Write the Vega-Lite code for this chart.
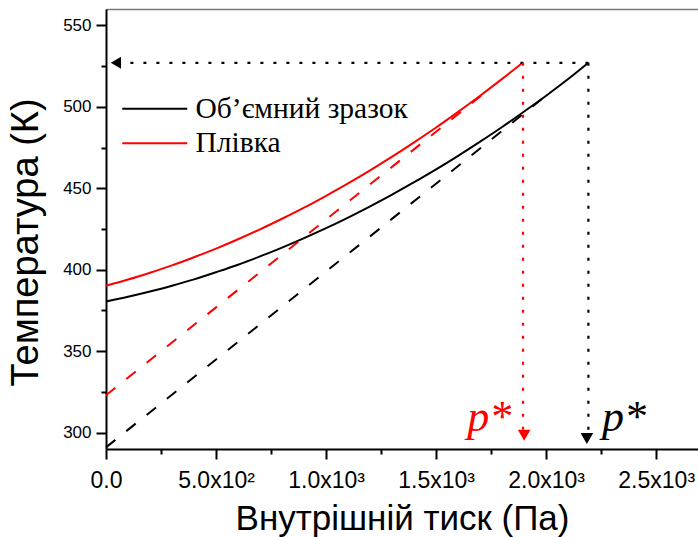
{
  "$schema": "https://vega.github.io/schema/vega-lite/v6.json",
  "width": 592,
  "height": 440,
  "autosize": {"type": "none"},
  "padding": {"left": 106, "top": 9, "right": 0, "bottom": 88},
  "background": "white",
  "config": {
    "view": {"stroke": null},
    "font": "Liberation Sans",
    "axis": {
      "domainColor": "black",
      "domainWidth": 2,
      "tickColor": "black",
      "tickWidth": 2,
      "labelColor": "black",
      "titleColor": "black",
      "grid": false,
      "labelFont": "Liberation Sans",
      "titleFont": "Liberation Sans",
      "titleFontWeight": "normal"
    }
  },
  "datasets": {
    "curves": [
      {"p": 0, "t": 380.5, "series": "Об’ємний зразок"},
      {"p": 100, "t": 383.4, "series": "Об’ємний зразок"},
      {"p": 200, "t": 386.6, "series": "Об’ємний зразок"},
      {"p": 300, "t": 390.2, "series": "Об’ємний зразок"},
      {"p": 400, "t": 394.1, "series": "Об’ємний зразок"},
      {"p": 500, "t": 398.5, "series": "Об’ємний зразок"},
      {"p": 600, "t": 403.1, "series": "Об’ємний зразок"},
      {"p": 700, "t": 408.2, "series": "Об’ємний зразок"},
      {"p": 800, "t": 413.6, "series": "Об’ємний зразок"},
      {"p": 900, "t": 419.4, "series": "Об’ємний зразок"},
      {"p": 1000, "t": 425.5, "series": "Об’ємний зразок"},
      {"p": 1100, "t": 432.0, "series": "Об’ємний зразок"},
      {"p": 1200, "t": 438.9, "series": "Об’ємний зразок"},
      {"p": 1300, "t": 446.1, "series": "Об’ємний зразок"},
      {"p": 1400, "t": 453.7, "series": "Об’ємний зразок"},
      {"p": 1500, "t": 461.6, "series": "Об’ємний зразок"},
      {"p": 1600, "t": 469.9, "series": "Об’ємний зразок"},
      {"p": 1700, "t": 478.6, "series": "Об’ємний зразок"},
      {"p": 1800, "t": 487.6, "series": "Об’ємний зразок"},
      {"p": 1900, "t": 497.1, "series": "Об’ємний зразок"},
      {"p": 2000, "t": 506.8, "series": "Об’ємний зразок"},
      {"p": 2100, "t": 517.0, "series": "Об’ємний зразок"},
      {"p": 2192, "t": 527.0, "series": "Об’ємний зразок"},
      {"p": 0, "t": 390.2, "series": "Плівка"},
      {"p": 100, "t": 394.0, "series": "Плівка"},
      {"p": 200, "t": 398.2, "series": "Плівка"},
      {"p": 300, "t": 402.7, "series": "Плівка"},
      {"p": 400, "t": 407.7, "series": "Плівка"},
      {"p": 500, "t": 413.0, "series": "Плівка"},
      {"p": 600, "t": 418.7, "series": "Плівка"},
      {"p": 700, "t": 424.8, "series": "Плівка"},
      {"p": 800, "t": 431.3, "series": "Плівка"},
      {"p": 900, "t": 438.1, "series": "Плівка"},
      {"p": 1000, "t": 445.4, "series": "Плівка"},
      {"p": 1100, "t": 453.0, "series": "Плівка"},
      {"p": 1200, "t": 461.0, "series": "Плівка"},
      {"p": 1300, "t": 469.4, "series": "Плівка"},
      {"p": 1400, "t": 478.2, "series": "Плівка"},
      {"p": 1500, "t": 487.3, "series": "Плівка"},
      {"p": 1600, "t": 496.9, "series": "Плівка"},
      {"p": 1700, "t": 506.8, "series": "Плівка"},
      {"p": 1800, "t": 517.1, "series": "Плівка"},
      {"p": 1893, "t": 527.0, "series": "Плівка"}
    ],
    "tangents": [
      {"p": 0, "t": 291, "series": "Об’ємний зразок"},
      {"p": 2020, "t": 509, "series": "Об’ємний зразок"},
      {"p": 0, "t": 323, "series": "Плівка"},
      {"p": 1725, "t": 509, "series": "Плівка"}
    ],
    "one": [{}]
  },
  "layer": [
    {
      "data": {"name": "curves"},
      "mark": {"type": "line", "strokeWidth": 2, "interpolate": "monotone"},
      "encoding": {
        "x": {
          "field": "p", "type": "quantitative",
          "scale": {"domain": [0, 2690], "nice": false, "zero": false},
          "axis": {
            "orient": "bottom",
            "values": [0, 500, 1000, 1500, 2000, 2500],
            "tickSize": 10,
            "labelFontSize": 23,
            "labelBaseline": "alphabetic",
            "labelPadding": 28,
            "labelFlush": false,
            "labelOverlap": false,
            "labelExpr": "datum.value == 0 ? '0.0' : datum.value == 500 ? '5.0x10²' : format(datum.value / 1000, '.1f') + 'x10³'",
            "title": "Внутрішній тиск (Па)",
            "titleFontSize": 35,
            "titleBaseline": "alphabetic",
            "titleY": 80
          }
        },
        "y": {
          "field": "t", "type": "quantitative",
          "scale": {"domain": [290, 560], "nice": false, "zero": false},
          "axis": {
            "orient": "left",
            "values": [300, 350, 400, 450, 500, 550],
            "tickSize": 10,
            "labelFontSize": 17,
            "labelPadding": 5,
            "format": "d",
            "title": "Температура (К)",
            "titleFontSize": 38,
            "titleAngle": 270,
            "titleAlign": "center",
            "titleBaseline": "middle",
            "titleX": -80,
            "titleY": 233
          }
        },
        "color": {
          "field": "series", "type": "nominal",
          "scale": {"domain": ["Об’ємний зразок", "Плівка"], "range": ["#000000", "#ff0000"]},
          "legend": {
            "orient": "none",
            "legendX": 34,
            "legendY": 85,
            "title": null,
            "symbolType": "M-3.25,0H3.25",
            "symbolSize": 400,
            "symbolStrokeWidth": 2,
            "labelFont": "Liberation Serif",
            "labelFontSize": 29.5,
            "labelColor": "black",
            "labelOffset": 26,
            "labelLimit": 0,
            "rowPadding": 3.5
          }
        }
      }
    },
    {
      "data": {"name": "tangents"},
      "mark": {"type": "line", "strokeWidth": 2, "strokeDash": [12, 14]},
      "encoding": {
        "x": {
          "field": "p", "type": "quantitative",
          "scale": {"domain": [0, 2690], "nice": false, "zero": false},
          "axis": {
            "orient": "bottom",
            "values": [250, 750, 1250, 1750, 2250],
            "tickSize": 5,
            "labels": false,
            "domain": false,
            "title": null
          }
        },
        "y": {
          "field": "t", "type": "quantitative",
          "scale": {"domain": [290, 560], "nice": false, "zero": false},
          "axis": {
            "orient": "left",
            "values": [325, 375, 425, 475, 525],
            "tickSize": 5,
            "labels": false,
            "domain": false,
            "title": null
          }
        },
        "color": {"field": "series", "type": "nominal", "legend": null}
      }
    },
    {
      "data": {"name": "one"},
      "mark": {"type": "rule", "strokeWidth": 2.2, "strokeDash": [3, 10], "color": "black"},
      "encoding": {
        "x": {
          "datum": 2192, "type": "quantitative",
          "scale": {"domain": [0, 2690], "nice": false, "zero": false},
          "axis": {
            "orient": "top",
            "domain": true,
            "domainColor": "#777777",
            "domainWidth": 1.5,
            "ticks": false,
            "labels": false,
            "title": null
          }
        },
        "x2": {"datum": 60},
        "y": {"datum": 527, "type": "quantitative", "axis": null}
      }
    },
    {
      "data": {"name": "one"},
      "mark": {"type": "rule", "strokeWidth": 2.2, "strokeDash": [3, 10], "color": "black"},
      "encoding": {
        "x": {"datum": 2192, "type": "quantitative", "axis": null},
        "y": {"datum": 527, "type": "quantitative", "axis": null},
        "y2": {"datum": 301}
      }
    },
    {
      "data": {"name": "one"},
      "mark": {"type": "rule", "strokeWidth": 2.2, "strokeDash": [3, 10], "color": "#ff0000"},
      "encoding": {
        "x": {"datum": 1895, "type": "quantitative", "axis": null},
        "y": {"datum": 527, "type": "quantitative", "axis": null},
        "y2": {"datum": 302}
      }
    },
    {
      "data": {"name": "one"},
      "mark": {"type": "point", "shape": "triangle-left", "filled": true, "color": "black", "size": 140, "opacity": 1},
      "encoding": {
        "x": {"datum": 45, "type": "quantitative", "axis": null},
        "y": {"datum": 527, "type": "quantitative", "axis": null}
      }
    },
    {
      "data": {"name": "one"},
      "mark": {"type": "point", "shape": "triangle-down", "filled": true, "color": "black", "size": 160, "opacity": 1},
      "encoding": {
        "x": {"datum": 2185, "type": "quantitative", "axis": null},
        "y": {"datum": 296.5, "type": "quantitative", "axis": null}
      }
    },
    {
      "data": {"name": "one"},
      "mark": {"type": "point", "shape": "triangle-down", "filled": true, "color": "#ff0000", "size": 160, "opacity": 1},
      "encoding": {
        "x": {"datum": 1900, "type": "quantitative", "axis": null},
        "y": {"datum": 298.5, "type": "quantitative", "axis": null}
      }
    },
    {
      "data": {"name": "one"},
      "mark": {"type": "text", "text": "p*", "font": "Liberation Serif", "fontStyle": "italic", "fontSize": 44, "color": "#ff0000", "align": "left", "baseline": "alphabetic"},
      "encoding": {
        "x": {"datum": 1641, "type": "quantitative", "axis": null},
        "y": {"datum": 301, "type": "quantitative", "axis": null}
      }
    },
    {
      "data": {"name": "one"},
      "mark": {"type": "text", "text": "p*", "font": "Liberation Serif", "fontStyle": "italic", "fontSize": 44, "color": "black", "align": "left", "baseline": "alphabetic"},
      "encoding": {
        "x": {"datum": 2254, "type": "quantitative", "axis": null},
        "y": {"datum": 301, "type": "quantitative", "axis": null}
      }
    }
  ],
  "resolve": {"axis": {"x": "independent", "y": "independent"}}
}
